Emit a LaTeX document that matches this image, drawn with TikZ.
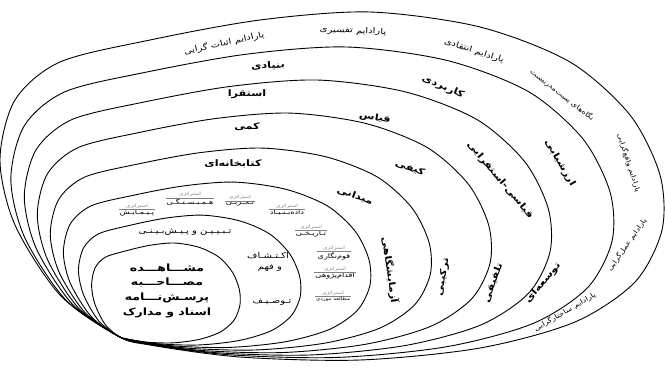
\documentclass[tikz,border=0pt]{standalone}
\usepackage{fontspec}
\newfontfamily\fa[Script=Arabic,FakeStretch=1.25]{DejaVu Sans}
\TeXXeTstate=1
\newcommand{\rl}[1]{\beginR#1\endR}
\newcommand{\onionring}[2]{%
  \begin{scope}[shift={(118,336)},xscale=#1,yscale=#2]
    \draw[ringline] plot[smooth cycle] coordinates {(252,-324) (362,-309) (452,-274) (512,-221) (542,-161) (544,-106) (517,-54) (457,-14) (362,12) (242,24) (122,21) (32,9) (0,0) (-58,-41) (-103,-111) (-118,-176) (-103,-236) (-58,-274) (32,-296) (142,-316)};
  \end{scope}}
\tikzset{
  ringline/.style={line width=0.9pt,black},
  lab/.style={font=\fa\fontsize{8}{9}\selectfont,inner sep=0pt},
  labs/.style={font=\fa\fontsize{6.5}{7}\selectfont,inner sep=0pt},
  labb/.style={font=\fa\bfseries\fontsize{9}{10}\selectfont,inner sep=0pt},
  strat/.style={font=\fa\fontsize{4.5}{5}\selectfont,inner sep=0.6pt,text=black!50},
  stratname/.style={font=\fa\fontsize{6.5}{7}\selectfont,inner sep=0.6pt},
  core/.style={font=\fa\bfseries\fontsize{10}{11}\selectfont,inner sep=0pt}
}
\begin{document}
\begin{tikzpicture}[x=1pt,y=-1pt]
\useasboundingbox (0,0) rectangle (665,370);
\clip (0,0) rectangle (665,370);
\fill[white] (0,0) rectangle (665,370);
\onionring{1}{1}
\onionring{0.908}{0.892}
\onionring{0.794}{0.79}
\onionring{0.684}{0.688}
\onionring{0.574}{0.58}
\onionring{0.463}{0.475}
\onionring{0.335}{0.373}
\onionring{0.224}{0.287}
% ring 8: paradigms
\node[lab,rotate=12] (p1) at (224,43) {\rl{پارادایم اثبات گرایی}};
\node[lab,rotate=-2] (p2) at (353,31) {\rl{پارادایم تفسیری}};
\node[lab,rotate=-18] (p3) at (474,51) {\rl{پارادایم انتقادی}};
\node[labs,rotate=-38] (p4) at (562,95) {\rl{نگاه‌های پست‌مدرنیست}};
\node[labs,rotate=-72] (p5) at (629,163) {\rl{پارادایم واقع‌گرایی}};
\node[labs,rotate=55] (p6) at (627,245) {\rl{پارادایم عمل‌گرایی}};
\node[labs,rotate=30] (p7) at (565,312) {\rl{پارادایم ساختارگرایی}};
% ring 7
\node[labb,rotate=3] (t1) at (268,66) {\rl{بنیادی}};
\node[labb,rotate=-22] (t2) at (443,87) {\rl{کاربردی}};
\node[labb,rotate=-60] (t3) at (560,163) {\rl{ارزشیابی}};
\node[labb,rotate=50] (t4) at (543,283) {\rl{توسعه‌ای}};
% ring 6
\node[labb] (a1) at (247,94) {\rl{استقرا}};
\node[labb,rotate=-10] (a2) at (375,118) {\rl{قیاس}};
\node[labb,rotate=-50] (a3) at (500,180) {\rl{قیاسی-استقرایی}};
\node[labb,rotate=70] (a4) at (493,283) {\rl{تلفیقی}};
% ring 5
\node[labb] (m1) at (247,127) {\rl{کمی}};
\node[labb,rotate=-20] (m2) at (410,168) {\rl{کیفی}};
\node[labb,rotate=80] (m3) at (443,277) {\rl{ترکیبی}};
% ring 4
\node[labb] (c1) at (233,164) {\rl{کتابخانه‌ای}};
\node[labb,rotate=-20] (c2) at (355,196) {\rl{میدانی}};
\node[labb,rotate=-82] (c3) at (390,270) {\rl{آزمایشگاهی}};
% ring 3: strategies
\foreach \nm/\x/\y/\txt in {s1/137/213/پـیـمـایـش, s2/190/202/هـمـبـسـتـگـی, s3/240/204/تـجـربـی, s4/287/213/داده‌بـنـیـاد, s5/311/234/تـاریـخـی, s6/334/256/قوم‌نگاری, s7/335/276/اقدام‌پژوهی}{
  \node[stratname] (\nm) at (\x,\y) {\rl{\txt}};
  \node[strat,anchor=south] (\nm l) at (\nm.north) {\rl{استراتژی}};
  \draw[black!50,line width=0.5pt] (\nm.north west) -- (\nm.north east);
}
\node[stratname,font=\fa\fontsize{4.5}{5}\selectfont] (s8) at (333,299) {\rl{مطالعه موردی}};
\node[strat,anchor=south] (s8l) at (s8.north) {\rl{استراتژی}};
\draw[black!50,line width=0.5pt] (s8.north west) -- (s8.north east);
% ring 2
\node[lab] (g1) at (185,232) {\rl{تـبـیـیـن و پـیـش‌بـیـنـی}};
\node[lab] (g2) at (268,256) {\rl{اکـتـشـاف}};
\node[lab] (g3) at (270,268) {\rl{و فهم}};
\node[lab] (g4) at (272,302) {\rl{تـوصـیـف}};
% ring 1
\node[core] (d1) at (167,268) {\rl{مشـــاهـــده}};
\node[core] (d2) at (167,283) {\rl{مصـــاحـــبه}};
\node[core] (d3) at (167,298) {\rl{پرسـش‌نـــامه}};
\node[core] (d4) at (167,313) {\rl{اسناد و مدارک}};
\end{tikzpicture}
\end{document}
